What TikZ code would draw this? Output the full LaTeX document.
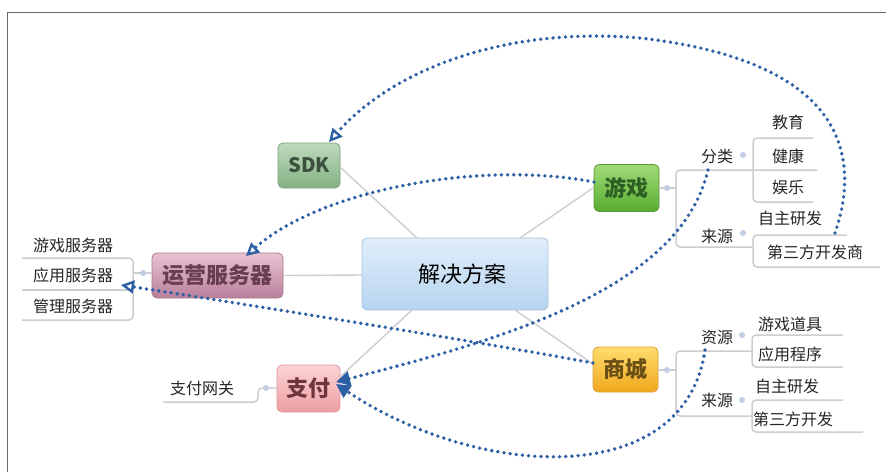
\documentclass[tikz,border=0pt]{standalone}
\usepackage{fontspec}
\setmainfont{Noto Sans CJK SC}
\usetikzlibrary{arrows.meta}
\definecolor{dotblue}{RGB}{45,95,165}
\definecolor{treegray}{RGB}{205,205,210}
\definecolor{knobc}{RGB}{195,205,228}
\tikzset{
  main/.style={rounded corners=5pt, inner sep=0pt, line width=0.8pt, font=\fontsize{22}{24}\selectfont\bfseries},
  leaf/.style={inner sep=0pt, font=\fontsize{16}{18}\selectfont, text=black!85},
  tree/.style={draw=treegray, line width=1.5pt, rounded corners=4pt},
  spoke/.style={draw=treegray, line width=1.4pt},
  knob/.style={circle, fill=knobc, minimum size=6pt, inner sep=0pt},
  dotted link/.style={draw=dotblue, line width=3.8pt, line cap=round, dash pattern=on 0pt off 6.2pt},
  openhead/.style={-{Triangle[open, length=13pt, width=13pt, line width=2.4pt]}},
  fullhead/.style={-{Triangle[length=14pt, width=14pt]}}
}
\begin{document}
\begin{tikzpicture}[x=1pt, y=-1pt]
\useasboundingbox (0,0) rectangle (886,472);
\fill[white] (0,0) rectangle (886,472);
\draw[black!60, line width=1pt] (7,472) -- (7,12) -- (886,12);

% central spoke ends
\coordinate (cSDK) at (417,238);
\coordinate (cYX) at (520,238);
\coordinate (cYY) at (362,275);
\coordinate (cZF) at (412,310);
\coordinate (cSC) at (515,310);

% main nodes
\node[main, minimum width=186pt, minimum height=72pt, draw={rgb,255:red,165;green,195;blue,222}, top color={rgb,255:red,225;green,238;blue,250}, bottom color={rgb,255:red,182;green,212;blue,240}, font=\fontsize{22}{24}\selectfont, text=black] (center) at (455,274) {\hspace*{14pt}\raisebox{-4pt}{解决方案}};
\node[main, minimum width=62pt, minimum height=45pt, draw={rgb,255:red,128;green,160;blue,128}, top color={rgb,255:red,190;green,218;blue,190}, bottom color={rgb,255:red,132;green,178;blue,132}, text={rgb,255:red,60;green,82;blue,62}, font=\fontsize{20}{22}\selectfont\bfseries] (sdk) at (309,165.5) {SDK};
\node[main, minimum width=65pt, minimum height=47pt, draw={rgb,255:red,90;green,150;blue,60}, top color={rgb,255:red,160;green,220;blue,120}, bottom color={rgb,255:red,88;green,172;blue,48}, text={rgb,255:red,45;green,95;blue,35}] (yx) at (626.5,188) {游戏};
\node[main, minimum width=131pt, minimum height=45pt, draw={rgb,255:red,170;green,120;blue,140}, top color={rgb,255:red,232;green,195;blue,210}, bottom color={rgb,255:red,185;green,128;blue,155}, text={rgb,255:red,105;green,62;blue,82}] (yy) at (217.5,275.5) {运营服务器};
\node[main, minimum width=63pt, minimum height=47pt, draw={rgb,255:red,222;green,150;blue,155}, top color={rgb,255:red,252;green,212;blue,212}, bottom color={rgb,255:red,236;green,158;blue,163}, text={rgb,255:red,112;green,55;blue,58}] (zf) at (308.5,388.5) {支付};
\node[main, minimum width=65pt, minimum height=45pt, draw={rgb,255:red,220;green,160;blue,60}, top color={rgb,255:red,255;green,220;blue,110}, bottom color={rgb,255:red,240;green,168;blue,28}, text={rgb,255:red,105;green,78;blue,22}] (sc) at (625.5,369.5) {商城};

% spokes
\draw[spoke] (340,167) -- (cSDK);
\draw[spoke] (593,188) -- (cYX);
\draw[spoke] (yy.east) -- (cYY);
\draw[spoke] (340,377) -- (cZF);
\draw[spoke] (593,364) -- (cSC);

% left branch of 运营服务器
\draw[tree] (22,258) -- (133,258) -- (133,320) -- (22,320);
\draw[tree] (22,290) -- (133,290);
\draw[tree] (133,273) -- (152,273);
\node[knob] (k1) at (143,273) {};
\node[leaf] (l1) at (73,245) {游戏服务器};
\node[leaf] (l2) at (73,275) {应用服务器};
\node[leaf] (l3) at (73,306) {管理服务器};

% 游戏 branches
\draw[tree] (659,188) -- (676,188);
\node[knob] (k2) at (667,188) {};
\draw[tree] (817,170) -- (676,170) -- (676,247) -- (753,247);
\draw[tree] (813,138) -- (753,138) -- (753,202) -- (813,202);
\draw[tree] (847,235) -- (753,235) -- (753,267) -- (880,267);
\node[knob] (k3) at (743,155) {};
\node[knob] (k4) at (743,233) {};
\node[leaf] (fl) at (717,156) {分类};
\node[leaf] (ly1) at (717,236) {来源};
\node[leaf] (jy) at (788,122) {教育};
\node[leaf] (jk) at (788,156) {健康};
\node[leaf] (yl) at (788,187) {娱乐};
\node[leaf] (zz1) at (790,218) {自主研发};
\node[leaf] (ds1) at (815,252) {第三方开发商};

% 商城 branches
\draw[tree] (658,370) -- (676,370);
\node[knob] (k5) at (667,370) {};
\draw[tree] (753,351) -- (676,351) -- (676,416) -- (753,416);
\draw[tree] (843,335) -- (752,335) -- (752,367) -- (843,367);
\draw[tree] (843,400) -- (752,400) -- (752,432) -- (863,432);
\node[knob] (k6) at (742,335) {};
\node[knob] (k7) at (742,400) {};
\node[leaf] (zy) at (717,337) {资源};
\node[leaf] (ly2) at (717,400) {来源};
\node[leaf] (yxdj) at (790,324) {游戏道具};
\node[leaf] (yycx) at (790,354) {应用程序};
\node[leaf] (zz2) at (787,386) {自主研发};
\node[leaf] (ds2) at (793,419) {第三方开发};

% 支付 branch
\draw[tree] (163,402) -- (258,402) -- (258,388) -- (277,388);
\node[knob] (k8) at (266,388) {};
\node[leaf] (zfwg) at (202,388) {支付网关};

% dotted links
\coordinate (s1) at (835,233);
\coordinate (e1) at (329,142);
\draw[dotted link, openhead] (s1) .. controls (860,160) and (850,62) .. (640,38) .. controls (505,26) and (392,70) .. (e1);

\coordinate (s2) at (594,182);
\coordinate (e2) at (246,256);
\draw[dotted link, openhead] (s2) .. controls (480,160) and (320,190) .. (e2);

\coordinate (s3) at (593,363);
\coordinate (e3) at (121,285);
\draw[dotted link, openhead] (s3) .. controls (480,342) and (250,305) .. (e3);

\coordinate (s4) at (708,170);
\coordinate (e4) at (336,382);
\draw[dotted link, fullhead] (s4) .. controls (680,290) and (500,340) .. (e4);

\coordinate (s5) at (705,350);
\coordinate (e5) at (336,384);
\draw[dotted link, fullhead] (s5) .. controls (685,490) and (480,480) .. (e5);
\end{tikzpicture}
\end{document}
